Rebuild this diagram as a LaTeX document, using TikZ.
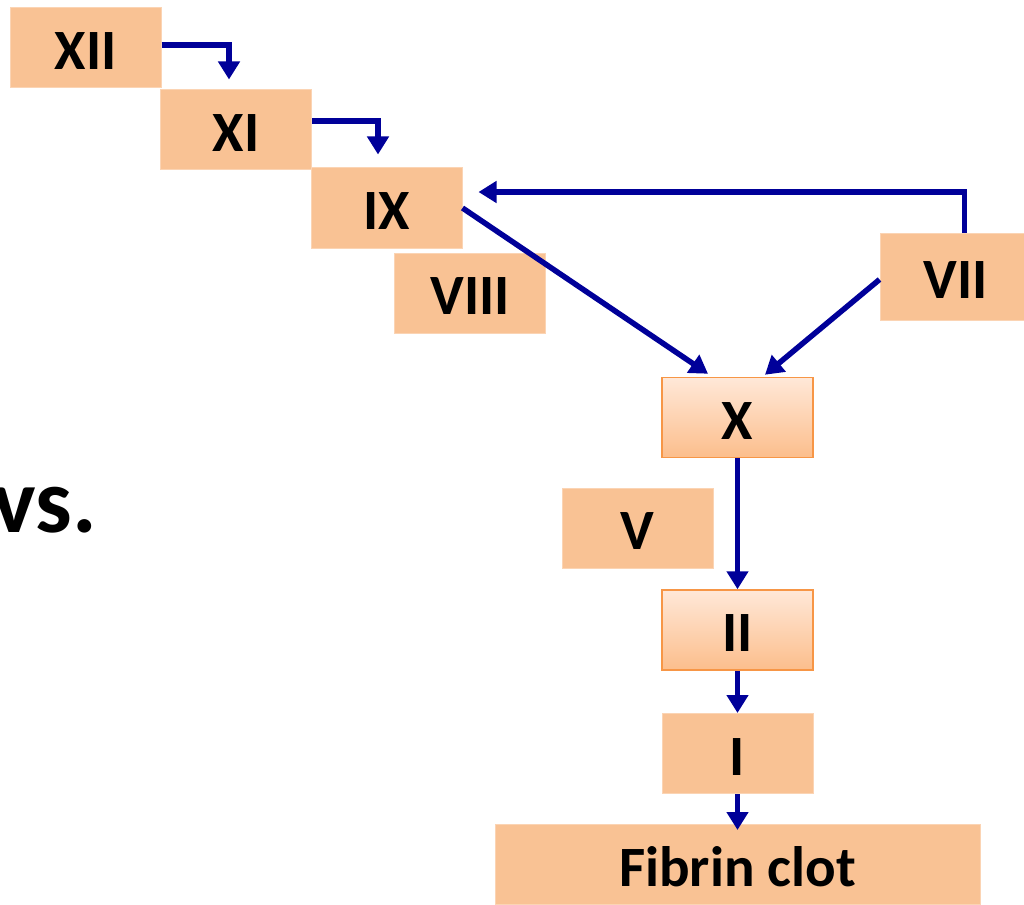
\documentclass[tikz,border=0pt]{standalone}
\usepackage{fontspec}
\setmainfont{Carlito}
\usetikzlibrary{arrows.meta}
\definecolor{boxfill}{RGB}{249,194,148}
\definecolor{boxline}{RGB}{251,212,180}
\definecolor{gradtop}{RGB}{255,232,216}
\definecolor{gradbot}{RGB}{252,190,140}
\definecolor{gradline}{RGB}{247,150,70}
\definecolor{arrblue}{RGB}{0,0,153}
\tikzset{
  factor/.style={fill=boxfill, draw=boxline, line width=1pt, minimum width=151pt, minimum height=80pt, inner sep=0pt,
    text height=43pt, text depth=0pt,
    font=\fontsize{57}{66}\selectfont\bfseries},
  gfactor/.style={factor, draw=gradline, line width=1.5pt, top color=gradtop, bottom color=gradbot},
  arr/.style={draw=arrblue, line width=5.5pt, -{Triangle[length=18pt,width=21pt]}},
}
\begin{document}
\begin{tikzpicture}[x=1pt,y=-1pt]
\useasboundingbox (0,0) rectangle (1024,904);
\node[factor] (XII) at (85.5,48) {XII};
\node[factor] (XI) at (236,130) {XI};
\node[factor] (IX) at (386.5,208) {IX};
\node[factor] (VIII) at (470,293) {VIII};
\node[factor, minimum height=87pt] (VII) at (955.5,276.5) {VII};
\node[gfactor] (X) at (737.5,417.5) {X};
\node[factor] (V) at (637.5,528) {V};
\node[gfactor] (II) at (737.5,630) {II};
\node[factor] (I) at (737.5,753.5) {I};
\node[factor, minimum width=485pt, minimum height=80pt] (F) at (737.5,864.5) {Fibrin clot};
\node[anchor=base east, inner sep=0pt, font=\fontsize{92}{100}\selectfont\bfseries] (vs) at (97,532) {vs.};
\draw[arr] ([yshift=3pt]XII.east) -| ([xshift=-7pt,yshift=10pt]XI.north);
\draw[arr] ([yshift=9pt]XI.east) -| ([xshift=-8.5pt,yshift=13pt]IX.north);
\draw[arr] ([xshift=9pt]VII.north) |- ([xshift=16pt,yshift=16pt]IX.east);
\draw[arr] (IX.east) -- ([xshift=-29.5pt,yshift=3pt]X.north);
\draw[arr] ([yshift=-3pt]VII.west) -- ([xshift=27.5pt,yshift=2pt]X.north);
\draw[arr] (X.south) -- (II.north);
\draw[arr] (II.south) -- (I.north);
\draw[arr] (I.south) -- ([yshift=-6pt]F.north);
\end{tikzpicture}
\end{document}
